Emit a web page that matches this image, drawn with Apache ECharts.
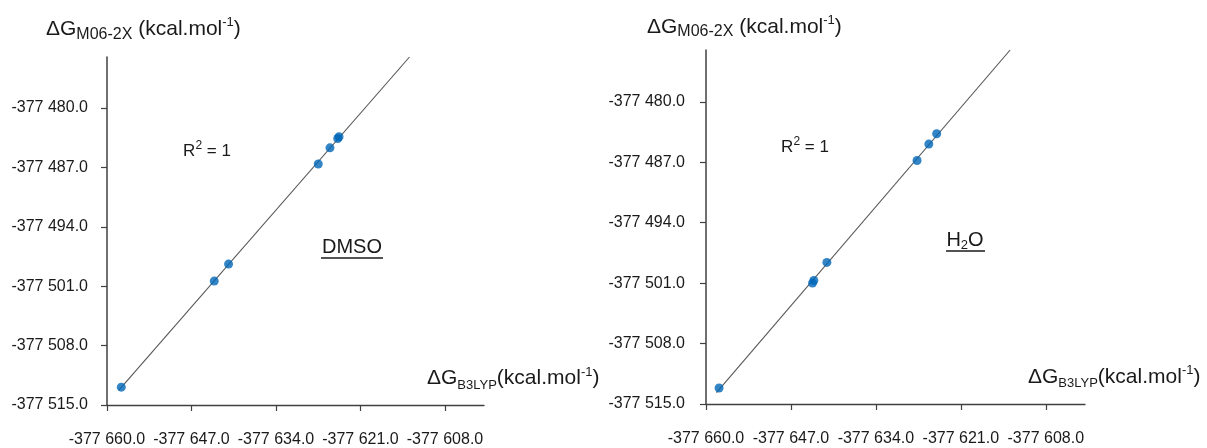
<!DOCTYPE html>
<html>
<head>
<meta charset="utf-8">
<script src="https://cdn.jsdelivr.net/npm/echarts@6/dist/echarts.min.js"></script>
<style>
html,body{margin:0;padding:0;background:#fff;}
#chart{width:1207px;height:448px;}
</style>
</head>
<body>
<div id="chart"></div>
<script>
// ---- data ----
const xTicks = [-377660, -377647, -377634, -377621, -377608];
const yTicks = [-377515, -377508, -377501, -377494, -377487, -377480];
const xRange = [-377660, -377602];
const yRange = [-377515, -377474];

const dmsoX = [-377657.8, -377643.5, -377641.3, -377627.5, -377625.7, -377624.5, -377624.3];
const dmsoY = [-377512.9, -377500.4, -377498.4, -377486.6, -377484.7, -377483.6, -377483.4];

const h2oX = [-377658.0, -377643.7, -377643.5, -377641.5, -377627.7, -377625.9, -377624.7];
const h2oY = [-377513.15, -377501.0, -377500.7, -377498.6, -377486.8, -377484.9, -377483.7];

const panelNames = ['DMSO', 'H2O'];

// ---- helpers ----
const FONT = "'Liberation Sans', Arial, sans-serif";
const TXT = '#1a1a1a';
function fmt(v) {
  const s = Math.abs(v).toFixed(1);
  let [i, d] = s.split('.');
  i = i.replace(/\B(?=(\d{3})+(?!\d))/g, ' ');
  return (v < 0 ? '-' : '') + i + '.' + d;
}
function fitLine(xs, ys, yTop) {
  const n = xs.length;
  const mx = xs.reduce((a, b) => a + b, 0) / n;
  const my = ys.reduce((a, b) => a + b, 0) / n;
  let sxy = 0, sxx = 0;
  for (let k = 0; k < n; k++) { sxy += (xs[k] - mx) * (ys[k] - my); sxx += (xs[k] - mx) * (xs[k] - mx); }
  const b = sxy / sxx, a = my - b * mx;
  const x0 = Math.min(...xs) - 0.4;
  const x1 = (yTop - a) / b;
  return [[x0, a + b * x0], [x1, yTop]];
}

function xAxisOpt(gi) {
  return {
    type: 'value', gridIndex: gi, min: xRange[0], max: xRange[1],
    axisLine: { show: true, onZero: false, lineStyle: { color: '#404040', width: 1.3 } },
    axisTick: { show: true, customValues: xTicks, length: 6, lineStyle: { color: '#404040', width: 1.2 } },
    axisLabel: { customValues: xTicks, formatter: fmt, margin: 27, fontSize: 16, fontFamily: FONT, color: TXT },
    splitLine: { show: false }
  };
}
function yAxisOpt(gi, margin) {
  return {
    type: 'value', gridIndex: gi, min: yRange[0], max: yRange[1],
    axisLine: { show: true, onZero: false, lineStyle: { color: '#404040', width: 1.5 } },
    axisTick: { show: true, customValues: yTicks, length: 6, lineStyle: { color: '#404040', width: 1.2 } },
    axisLabel: { customValues: yTicks, formatter: fmt, margin: margin, fontSize: 16, fontFamily: FONT, color: TXT },
    splitLine: { show: false }
  };
}

const titleRichY = {
  a: { fontSize: 21, lineHeight: 26, fontFamily: FONT, fill: TXT },
  sub: { fontSize: 16, lineHeight: 17, verticalAlign: 'bottom', fontFamily: FONT, fill: TXT },
  sup: { fontSize: 13, lineHeight: 20, verticalAlign: 'top', fontFamily: FONT, fill: TXT }
};
const titleRichX = {
  a: { fontSize: 21, lineHeight: 26, fontFamily: FONT, fill: TXT },
  sub: { fontSize: 13, lineHeight: 15, verticalAlign: 'bottom', fontFamily: FONT, fill: TXT },
  sup: { fontSize: 13, lineHeight: 20, verticalAlign: 'top', fontFamily: FONT, fill: TXT }
};
const yTitle = '{a|ΔG}{sub|M06-2X}{a| (kcal.mol}{sup|-1}{a|)}';
const xTitle = '{a|ΔG}{sub|B3LYP}{a|(kcal.mol}{sup|-1}{a|)}';
const r2Rich = {
  a: { fontSize: 17, lineHeight: 22, fontFamily: FONT, fill: TXT },
  sup: { fontSize: 12, lineHeight: 17, verticalAlign: 'top', fontFamily: FONT, fill: TXT }
};
const r2 = '{a|R}{sup|2}{a| = 1}';
const nameRich = {
  a: { fontSize: 20, lineHeight: 24, fontFamily: FONT, fill: TXT },
  sub: { fontSize: 13, lineHeight: 13, verticalAlign: 'bottom', fontFamily: FONT, fill: TXT }
};

function textEl(x, y, text, rich, align) {
  return { type: 'text', x: x, y: y, z: 10,
    style: { text: text, rich: rich, fill: TXT, align: align || 'left', verticalAlign: 'middle', fontFamily: FONT } };
}
function lineEl(x1, x2, y) {
  return { type: 'line', z: 10, shape: { x1: x1, y1: y, x2: x2, y2: y }, style: { stroke: TXT, lineWidth: 1.3 } };
}

const chart = echarts.init(document.getElementById('chart'), null, { renderer: 'canvas' });
chart.setOption({
  animation: false,
  backgroundColor: '#ffffff',
  grid: [
    { left: 107, top: 57, width: 377, height: 349 },
    { left: 706, top: 50, width: 379, height: 354 }
  ],
  xAxis: [xAxisOpt(0), xAxisOpt(1)],
  yAxis: [yAxisOpt(0, 19), yAxisOpt(1, 21)],
  series: [
    { type: 'line', xAxisIndex: 0, yAxisIndex: 0, data: fitLine(dmsoX, dmsoY, yRange[1]), showSymbol: false,
      lineStyle: { color: '#555555', width: 1.1 }, z: 1, silent: true },
    { type: 'scatter', xAxisIndex: 0, yAxisIndex: 0, data: dmsoX.map((x, i) => [x, dmsoY[i]]), symbolSize: 9,
      itemStyle: { color: '#0067b8' }, z: 3 },
    { type: 'line', xAxisIndex: 1, yAxisIndex: 1, data: fitLine(h2oX, h2oY, yRange[1]), showSymbol: false,
      lineStyle: { color: '#555555', width: 1.1 }, z: 1, silent: true },
    { type: 'scatter', xAxisIndex: 1, yAxisIndex: 1, data: h2oX.map((x, i) => [x, h2oY[i]]), symbolSize: 9,
      itemStyle: { color: '#0067b8' }, z: 3 }
  ],
  graphic: [
    textEl(46, 29.4, yTitle, titleRichY),
    textEl(647, 27, yTitle, titleRichY),
    textEl(427, 378.5, xTitle, titleRichX),
    textEl(1028, 377, xTitle, titleRichX),
    textEl(207, 151, r2, r2Rich, 'center'),
    textEl(805, 147, r2, r2Rich, 'center'),
    textEl(352, 247, '{a|' + panelNames[0] + '}', nameRich, 'center'),
    lineEl(321, 383, 258),
    textEl(965, 240, '{a|H}{sub|2}{a|O}', nameRich, 'center'),
    lineEl(946, 985, 251)
  ]
});
</script>
</body>
</html>
